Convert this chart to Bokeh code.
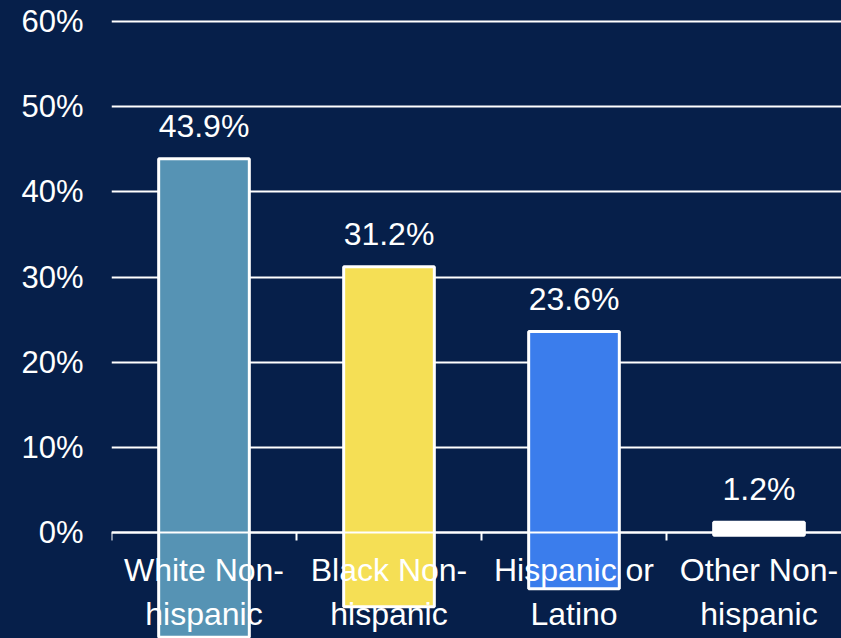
from bokeh.plotting import figure
from bokeh.models import ColumnDataSource, LinearAxis, FixedTicker, Range1d
from bokeh.embed import file_html
from bokeh.resources import INLINE
from bokeh.core.properties import value

categories = ["White Non-hispanic", "Black Non-hispanic", "Hispanic or Latino", "Other Non-hispanic"]
category_labels = ["White Non-\nhispanic", "Black Non-\nhispanic", "Hispanic or\nLatino", "Other Non-\nhispanic"]
shares = [43.9, 31.2, 23.6, 1.2]
bar_colors = ["#5693B4", "#F5DF55", "#3B7DEC", "#FFFFFF"]
y_ticks = [0, 10, 20, 30, 40, 50, 60]

BG = "#061F4A"
FONT = "Liberation Sans"
OVERHANG = 0.28  # bars in the reference run past the baseline

centers = [i + 0.5 for i in range(len(categories))]
bounds = [i for i in range(len(categories) + 1)]
src = ColumnDataSource(dict(
    x=centers,
    top=shares,
    bottom=[-OVERHANG * v for v in shares],
    color=bar_colors,
    label=[f"{v:.1f}%" for v in shares],
))

p = figure(width=841, height=638, x_range=Range1d(0, 3.946), y_range=Range1d(-12.45, 62.47),
           output_backend="svg", toolbar_location=None, x_axis_location=None,
           min_border=0, min_border_left=111,
           background_fill_color=BG, background_fill_alpha=0,
           border_fill_color=BG, border_fill_alpha=0, outline_line_color=None,
           styles={"background-color": BG})

p.xgrid.visible = False
p.ygrid.ticker = FixedTicker(ticks=y_ticks)
p.ygrid.grid_line_color = "white"
p.ygrid.grid_line_width = 2

ya = p.yaxis[0]
ya.ticker = FixedTicker(ticks=y_ticks)
ya.major_label_overrides = {t: f"{t}%" for t in y_ticks}
ya.axis_line_color = None
ya.major_tick_line_color = None
ya.minor_tick_line_color = None
ya.major_tick_out = 0
ya.major_label_standoff = 28
ya.major_label_text_color = "white"
ya.major_label_text_font = FONT
ya.major_label_text_font_size = "31px"

p.vbar(x="x", top="top", bottom="bottom", width=0.49, fill_color="color",
       line_color="white", line_width=3, source=src)

p.text(x="x", y="top", text="label", y_offset=-33, text_align="center",
       text_baseline="alphabetic", text_color="white", text_font=value(FONT),
       text_font_size="32px", source=src)

xa = LinearAxis(fixed_location=0, ticker=FixedTicker(ticks=centers, minor_ticks=bounds),
                major_label_overrides={c: l for c, l in zip(centers, category_labels)})
xa.axis_line_color = "white"
xa.axis_line_width = 2
xa.major_tick_line_color = None
xa.major_tick_out = 0
xa.major_tick_in = 0
xa.minor_tick_line_color = "white"
xa.minor_tick_line_width = 2
xa.minor_tick_out = 8
xa.minor_tick_in = 0
xa.major_label_standoff = 12
xa.major_label_text_color = "white"
xa.major_label_text_font = FONT
xa.major_label_text_font_size = "32px"
p.add_layout(xa, "below")

open("out.html", "w").write(file_html(p, INLINE))
